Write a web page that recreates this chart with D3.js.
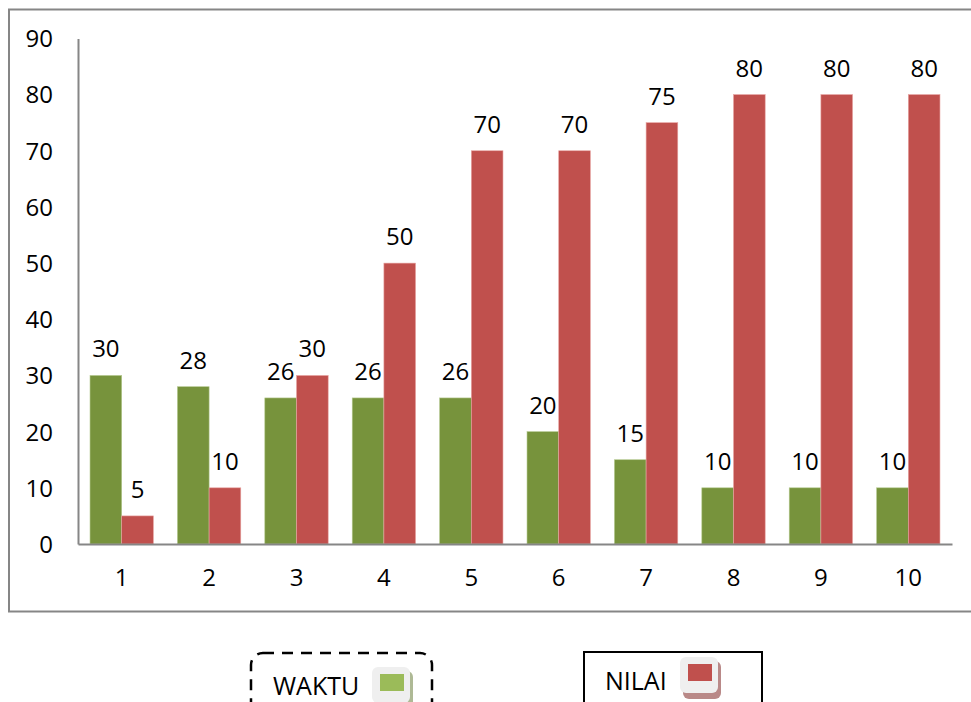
<!DOCTYPE html>
<html><head><meta charset="utf-8">
<script src="https://cdn.jsdelivr.net/npm/d3@7"></script>
<style>
html,body{margin:0;padding:0;background:#fff;}
svg{display:block;font-family:"Open Sans",sans-serif;}
</style></head>
<body><svg id="c" width="971" height="702"></svg>
<script>
const categories = ["1","2","3","4","5","6","7","8","9","10"];
const waktu = [30,28,26,26,26,20,15,10,10,10];
const nilai = [5,10,30,50,70,70,75,80,80,80];
const seriesNames = ["WAKTU","NILAI"];
const barColors = ["#77933C","#C0504D"];
const legendColors = ["#9BBB59","#C0504D"];
const yTicks = [0,10,20,30,40,50,60,70,80,90];
const FS = 24;

const svg = d3.select("#c");
// outer chart frame
svg.append("rect").attr("x",9).attr("y",9.5).attr("width",990).attr("height",602)
  .attr("fill","none").attr("stroke","#868686").attr("stroke-width",2);

const x0 = d3.scaleBand().domain(categories).range([78,952]).paddingInner(0.275).paddingOuter(0.1375);
const x1 = d3.scaleBand().domain(seriesNames).range([0,x0.bandwidth()]);
const y = d3.scaleLinear().domain([0,90]).range([544,38.4]);

const data = categories.map((c,i)=>({cat:c, vals:[{s:"WAKTU",v:waktu[i],k:0},{s:"NILAI",v:nilai[i],k:1}]}));

const g = svg.append("g");
const groups = g.selectAll("g.grp").data(data).join("g").attr("class","grp")
  .attr("transform",d=>`translate(${x0(d.cat)},0)`);
groups.selectAll("rect").data(d=>d.vals).join("rect")
  .attr("x",d=>x1(d.s)).attr("width",x1.bandwidth())
  .attr("y",d=>y(d.v)).attr("height",d=>y(0)-y(d.v))
  .attr("fill",d=>barColors[d.k])
  .attr("stroke",d=>d.k?"#e8a5a3":"#b5c98f").attr("stroke-width",0.6);
groups.selectAll("text").data(d=>d.vals).join("text")
  .attr("x",d=>x1(d.s)+x1.bandwidth()/2).attr("y",d=>y(d.v)-18)
  .attr("text-anchor","middle").attr("font-size",FS).attr("fill","#000")
  .text(d=>d.v);

// axes
const yAxis = d3.axisLeft(y).tickValues(yTicks).tickSize(0).tickPadding(25);
const ya = svg.append("g").attr("transform","translate(78,0)").call(yAxis);
ya.select(".domain").attr("stroke","#868686").attr("stroke-width",2);
ya.selectAll("text").attr("font-size",FS).attr("fill","#000").attr("font-family","Open Sans").attr("dy","0.35em");

const xAxis = d3.axisBottom(x0).tickSize(0).tickPadding(25);
const xa = svg.append("g").attr("transform","translate(0,544)").call(xAxis);
xa.select(".domain").attr("stroke","#868686").attr("stroke-width",2);
xa.selectAll("text").attr("font-size",FS).attr("fill","#000").attr("font-family","Open Sans");

// legends
function swatch(gx,gy,col){
  const s = svg.append("g").attr("transform",`translate(${gx},${gy})`);
  s.append("rect").attr("x",3).attr("y",4).attr("width",38).attr("height",38).attr("rx",6)
    .attr("fill",col==="#C0504D"?"#a86b6a":"#9aa87a").attr("opacity",0.8);
  s.append("rect").attr("x",0).attr("y",0).attr("width",38).attr("height",36).attr("rx",6)
    .attr("fill","#efefef");
  s.append("rect").attr("x",8).attr("y",7).attr("width",24).attr("height",17).attr("fill",col);
}
svg.append("rect").attr("x",251).attr("y",653).attr("width",181).attr("height",70).attr("rx",12)
  .attr("fill","none").attr("stroke","#000").attr("stroke-width",2.5).attr("stroke-dasharray","11,8");
svg.append("text").attr("x",273).attr("y",695).attr("font-size",25).text(seriesNames[0]);
swatch(372,667,legendColors[0]);

svg.append("rect").attr("x",584).attr("y",652).attr("width",178).attr("height",70)
  .attr("fill","none").attr("stroke","#000").attr("stroke-width",2);
svg.append("text").attr("x",605).attr("y",690).attr("font-size",25).text(seriesNames[1]);
swatch(680,657,legendColors[1]);
</script></body></html>
